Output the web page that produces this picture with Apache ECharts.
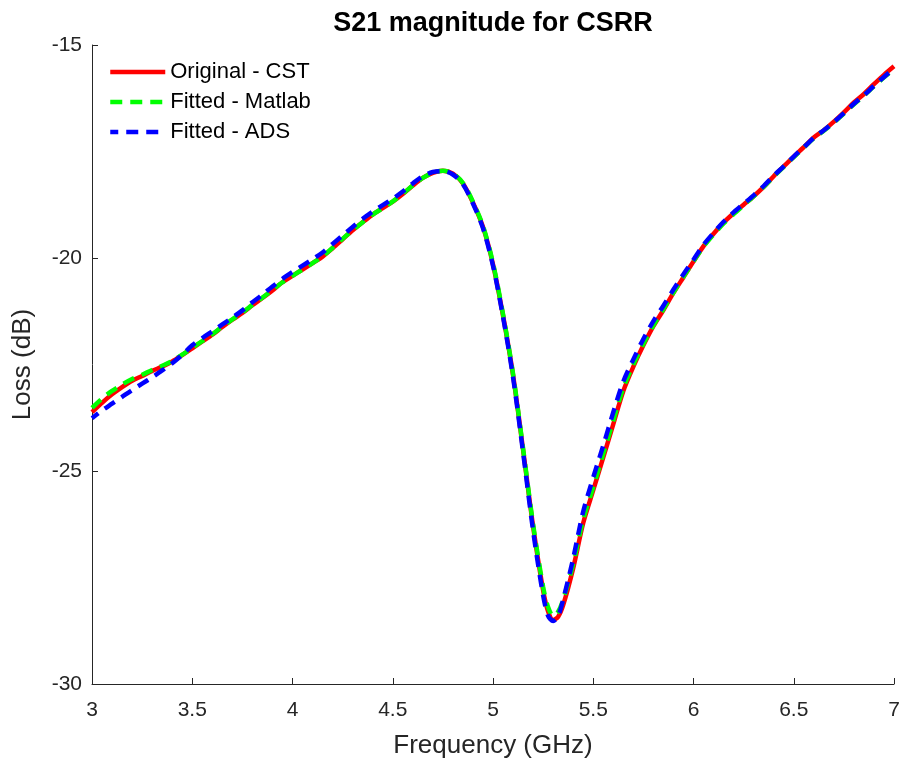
<!DOCTYPE html>
<html>
<head>
<meta charset="utf-8">
<script src="https://cdn.jsdelivr.net/npm/echarts@6/dist/echarts.min.js"></script>
<style>html,body{margin:0;padding:0;background:#fff}#c{width:909px;height:766px}</style>
</head>
<body>
<div id="c"></div>
<script>
const freq = [3.00,3.05,3.10,3.15,3.20,3.25,3.30,3.35,3.40,3.45,3.50,3.55,3.60,3.65,3.70,3.75,3.80,3.85,3.90,3.95,
  4.00,4.05,4.10,4.15,4.20,4.25,4.30,4.35,4.40,4.45,4.50,4.55,4.60,4.65,4.70,4.75,4.80,4.85,4.90,4.95,
  5.00,5.05,5.10,5.15,5.20,5.25,5.275,5.30,5.325,5.35,5.40,5.45,5.50,5.55,5.60,5.65,5.70,5.75,5.80,5.85,5.90,5.95,
  6.00,6.05,6.10,6.15,6.20,6.25,6.30,6.35,6.40,6.45,6.50,6.55,6.60,6.65,6.70,6.75,6.80,6.85,6.90,6.95,7.00];
const cst = [-23.62,-23.40,-23.20,-23.03,-22.88,-22.77,-22.65,-22.55,-22.43,-22.28,-22.12,-21.96,-21.80,-21.62,-21.45,-21.29,-21.11,-20.94,-20.76,-20.57,
  -20.42,-20.27,-20.12,-19.97,-19.77,-19.56,-19.35,-19.16,-18.98,-18.83,-18.68,-18.50,-18.30,-18.12,-18.00,-17.95,-18.02,-18.25,-18.70,-19.27,
  -20.15,-21.35,-22.75,-24.50,-26.30,-27.80,-28.30,-28.50,-28.42,-28.15,-27.28,-26.22,-25.45,-24.68,-23.90,-23.12,-22.55,-22.05,-21.60,-21.22,-20.82,-20.45,
  -20.08,-19.72,-19.43,-19.17,-18.95,-18.75,-18.55,-18.33,-18.08,-17.85,-17.62,-17.40,-17.17,-17.00,-16.80,-16.58,-16.35,-16.15,-15.92,-15.70,-15.50];
const matlab = [-23.52,-23.30,-23.12,-22.97,-22.84,-22.74,-22.63,-22.53,-22.42,-22.27,-22.11,-21.95,-21.79,-21.61,-21.44,-21.28,-21.10,-20.93,-20.75,-20.57,
  -20.42,-20.27,-20.12,-19.96,-19.76,-19.55,-19.35,-19.16,-18.98,-18.83,-18.67,-18.49,-18.30,-18.12,-18.00,-17.95,-18.02,-18.24,-18.68,-19.25,
  -20.12,-21.32,-22.72,-24.47,-26.25,-27.72,-28.20,-28.40,-28.30,-28.02,-27.18,-26.14,-25.38,-24.60,-23.82,-23.05,-22.50,-22.02,-21.58,-21.20,-20.81,-20.44,
  -20.08,-19.73,-19.45,-19.19,-18.97,-18.76,-18.55,-18.33,-18.09,-17.86,-17.63,-17.41,-17.19,-17.01,-16.82,-16.61,-16.39,-16.19,-15.97,-15.76,-15.56];
const ads = [-23.76,-23.58,-23.42,-23.26,-23.10,-22.95,-22.80,-22.64,-22.47,-22.27,-22.05,-21.88,-21.72,-21.56,-21.40,-21.23,-21.04,-20.86,-20.67,-20.49,
  -20.33,-20.18,-20.03,-19.87,-19.67,-19.47,-19.27,-19.08,-18.91,-18.76,-18.61,-18.44,-18.25,-18.08,-17.98,-17.96,-18.04,-18.27,-18.72,-19.30,
  -20.18,-21.38,-22.80,-24.56,-26.40,-27.92,-28.40,-28.52,-28.40,-28.02,-27.05,-25.95,-25.15,-24.40,-23.62,-22.90,-22.38,-21.90,-21.48,-21.12,-20.74,-20.38,
  -20.04,-19.69,-19.41,-19.15,-18.93,-18.73,-18.53,-18.31,-18.07,-17.85,-17.62,-17.40,-17.18,-17.00,-16.81,-16.60,-16.38,-16.18,-15.96,-15.75,-15.55];
const names = ['Original - CST','Fitted - Matlab','Fitted - ADS'];
const xTicks = ['3','3.5','4','4.5','5','5.5','6','6.5','7'];
const yTicks = ['-30','-25','-20','-15'];

const zip = (ys) => freq.map((f,i)=>[f, ys[i]]);
const chart = echarts.init(document.getElementById('c'), null, {renderer:'canvas'});
const axisColor = '#262626';
const font = 'Liberation Sans, Arial, Helvetica, sans-serif';
chart.setOption({
  animation:false,
  backgroundColor:'#fff',
  graphic:[{type:'text', x:493, y:10, z:10,
    style:{text:'S21 magnitude for CSRR', textAlign:'center', textVerticalAlign:'top',
      font:'bold 27px ' + font, fill:'#000'}}],
  legend:{left:103, top:56, orient:'vertical', itemWidth:55, itemHeight:20, itemGap:8,
    data:names, textStyle:{fontFamily:font, fontSize:22, color:'#000'},
    lineStyle:{width:4.5},
    itemStyle:{color:'rgba(0,0,0,0)', borderColor:'rgba(0,0,0,0)', borderWidth:0, opacity:0}},
  grid:{left:92, right:15, top:45, bottom:82, containLabel:false},
  xAxis:{type:'value', min:3, max:7, interval:0.5, name:'Frequency (GHz)', nameLocation:'middle', nameGap:49,
    nameTextStyle:{fontFamily:font, fontSize:26, color:axisColor},
    axisLine:{show:true, onZero:false, lineStyle:{color:axisColor, width:1}},
    axisTick:{show:true, inside:true, length:6, lineStyle:{color:axisColor}},
    axisLabel:{fontFamily:font, fontSize:21, color:axisColor, margin:16,
      formatter:(v)=>{const s=String(+v.toFixed(2)); return xTicks.includes(s)?s:'';}},
    splitLine:{show:false}},
  yAxis:{type:'value', min:-30, max:-15, interval:5, name:'Loss (dB)', nameLocation:'middle', nameGap:56,
    nameTextStyle:{fontFamily:font, fontSize:26, color:axisColor},
    axisLine:{show:true, onZero:false, lineStyle:{color:axisColor, width:1}},
    axisTick:{show:true, inside:true, length:6, lineStyle:{color:axisColor}},
    axisLabel:{fontFamily:font, fontSize:21, color:axisColor, margin:10,
      formatter:(v)=>{const s=String(v); return yTicks.includes(s)?s:'';}},
    splitLine:{show:false}},
  series:[
    {name:names[0], type:'line', data:zip(cst), showSymbol:false, symbol:'none', smooth:0.3,
      lineStyle:{color:'#ff0000', width:4.5}, itemStyle:{color:'#ff0000'}, z:1},
    {name:names[1], type:'line', data:zip(matlab), showSymbol:false, symbol:'none', smooth:0.3,
      lineStyle:{color:'#00ff00', width:4.5, type:[12,8]}, itemStyle:{color:'#00ff00'}, z:2},
    {name:names[2], type:'line', data:zip(ads), showSymbol:false, symbol:'none', smooth:0.3,
      lineStyle:{color:'#0000ff', width:4.5, type:[12,8], dashOffset:4}, itemStyle:{color:'#0000ff'}, z:3}
  ]
});
</script>
</body>
</html>
